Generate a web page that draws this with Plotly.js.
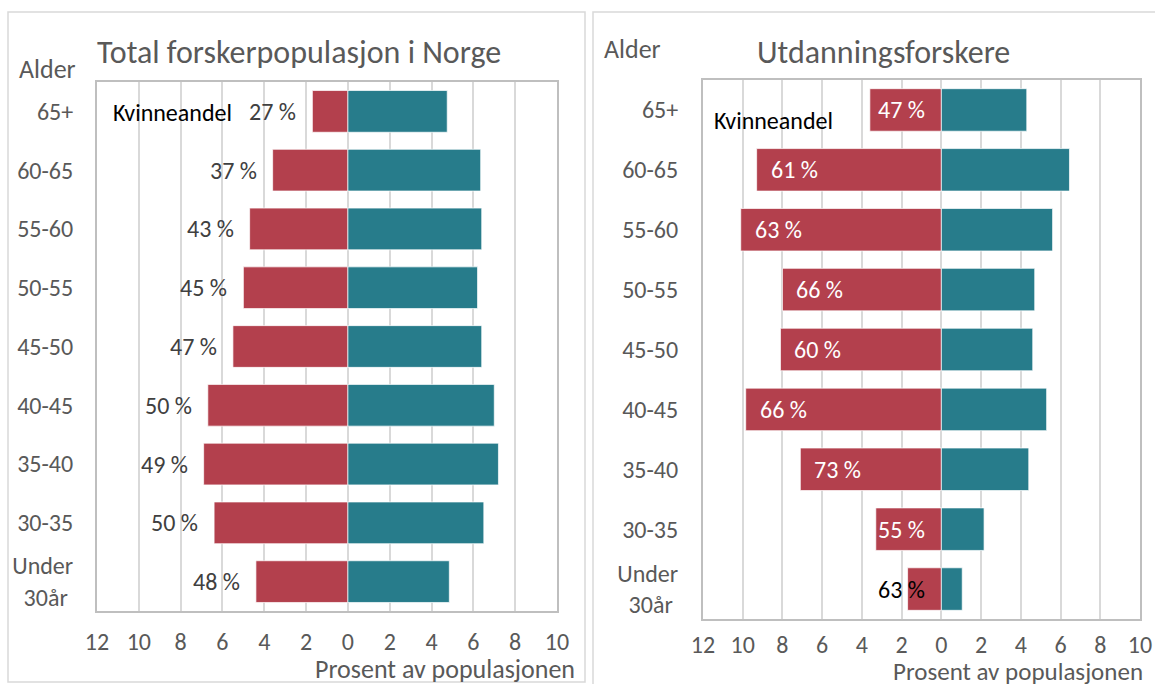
<!DOCTYPE html>
<html>
<head>
<meta charset="utf-8">
<script src="https://cdn.plot.ly/plotly-3.0.1.min.js"></script>
<style>html,body{margin:0;padding:0;background:#fff;}#chart{width:1155px;height:684px;}</style>
</head>
<body>
<div id="chart"></div>
<script>
// ---- Data ----
const ageGroups = ["65+", "60-65", "55-60", "50-55", "45-50", "40-45", "35-40", "30-35", "Under 30år"];
const ageTickText = ["65+", "60-65", "55-60", "50-55", "45-50", "40-45", "35-40", "30-35", "Under<br>30år&nbsp;"];

// Total forskerpopulasjon i Norge (prosent av populasjonen)
const totalWomen = [1.7, 3.6, 4.7, 5.0, 5.5, 6.7, 6.9, 6.4, 4.4];
const totalMen   = [4.75, 6.35, 6.4, 6.2, 6.4, 7.0, 7.2, 6.5, 4.85];
const totalShare = [27, 37, 43, 45, 47, 50, 49, 50, 48];

// Utdanningsforskere (prosent av populasjonen)
const eduWomen = [3.6, 9.3, 10.1, 8.0, 8.1, 9.85, 7.1, 3.3, 1.7];
const eduMen   = [4.3, 6.45, 5.6, 4.7, 4.6, 5.3, 4.4, 2.15, 1.05];
const eduShare = [47, 61, 63, 66, 60, 66, 73, 55, 63];

const xTickVals = [-12, -10, -8, -6, -4, -2, 0, 2, 4, 6, 8, 10];
const xTickText = ["12", "10", "8", "6", "4", "2", "0", "2", "4", "6", "8", "10"];

// ---- Styling ----
const W = 1155, H = 684;
const px = x => x / W;
const py = y => 1 - y / H;
const FONT = "Calibri, Carlito, 'Open Sans', sans-serif";
const RED = "#b3404d";
const TEAL = "#277c8b";
const GREY = "#595959";

function neg(a) { return a.map(v => -v); }

const barCommon = {
  type: "bar", orientation: "h", width: 0.71, hoverinfo: "skip", showlegend: false
};

const traces = [
  Object.assign({}, barCommon, {x: neg(totalWomen), y: ageGroups, xaxis: "x", yaxis: "y",
    marker: {color: RED, line: {color: "rgba(255,255,255,0.7)", width: 1}}}),
  Object.assign({}, barCommon, {x: totalMen, y: ageGroups, xaxis: "x", yaxis: "y",
    marker: {color: TEAL, line: {color: "rgba(255,255,255,0.7)", width: 1}}}),
  Object.assign({}, barCommon, {x: neg(eduWomen), y: ageGroups, xaxis: "x2", yaxis: "y2",
    marker: {color: RED, line: {color: "rgba(255,255,255,0.7)", width: 1}}}),
  Object.assign({}, barCommon, {x: eduMen, y: ageGroups, xaxis: "x2", yaxis: "y2",
    marker: {color: TEAL, line: {color: "rgba(255,255,255,0.7)", width: 1}}})
];

function xAxis(domain, anchor, standoff) {
  return {
    domain: domain, anchor: anchor, range: [-12, 10],
    tickvals: xTickVals, ticktext: xTickText,
    showgrid: true, gridcolor: "#d9d9d9", gridwidth: 2, zeroline: false,
    showline: true, linecolor: "#bfbfbf", linewidth: 2, mirror: true,
    ticks: "", ticklabelstandoff: standoff,
    tickfont: {family: FONT, size: 24, color: GREY}, fixedrange: true
  };
}
function yAxis(domain, anchor, standoff) {
  return {
    domain: domain, anchor: anchor, type: "category",
    categoryorder: "array", categoryarray: ageGroups,
    tickvals: ageGroups, ticktext: ageTickText,
    range: [8.5, -0.5], showgrid: false, zeroline: false,
    showline: true, linecolor: "#bfbfbf", linewidth: 2, mirror: true,
    ticks: "", ticklabelstandoff: standoff,
    tickfont: {family: FONT, size: 24, color: GREY}, fixedrange: true
  };
}

const annotations = [];
// Left panel share labels
ageGroups.forEach((g, i) => {
  annotations.push({x: -totalWomen[i], y: g, xref: "x", yref: "y", text: totalShare[i] + " %",
    showarrow: false, xanchor: "right", xshift: -14,
    font: {family: FONT, size: 24, color: "#404040"}});
});
// Right panel share labels
ageGroups.forEach((g, i) => {
  const shortBar = eduWomen[i] < 4;
  annotations.push({x: shortBar ? 0 : -eduWomen[i], y: g, xref: "x2", yref: "y2", text: eduShare[i] + " %",
    showarrow: false, xanchor: shortBar ? "right" : "left", xshift: shortBar ? -14 : 12,
    font: {family: FONT, size: 24, color: eduWomen[i] < 2 ? "#000000" : "#ffffff"}});
});

const texts = [
  {t: "Total forskerpopulasjon i Norge", x: 95, y: 53, xa: "left", size: 32, color: GREY},
  {t: "Utdanningsforskere", x: 755, y: 53, xa: "left", size: 32, color: GREY},
  {t: "Alder", x: 17, y: 69, xa: "left", size: 26, color: GREY},
  {t: "Alder", x: 602, y: 49, xa: "left", size: 26, color: GREY},
  {t: "Kvinneandel", x: 111, y: 112, xa: "left", size: 24, color: "#000000"},
  {t: "Kvinneandel", x: 712, y: 120, xa: "left", size: 24, color: "#000000"},
  {t: "Prosent av populasjonen", x: 577, y: 669, xa: "right", size: 26, color: GREY},
  {t: "Prosent av populasjonen", x: 891, y: 671, xa: "left", size: 25, color: GREY}
];
texts.forEach(o => annotations.push({
  text: o.t, x: px(o.x), y: py(o.y), xref: "paper", yref: "paper",
  xanchor: o.xa, yanchor: "middle", showarrow: false,
  font: {family: FONT, size: o.size, color: o.color}
}));

const shapes = [
  {type: "rect", xref: "paper", yref: "paper", x0: px(8), x1: px(585), y0: py(682), y1: py(12),
    line: {color: "#d9d9d9", width: 1.5}, layer: "below"},
  {type: "rect", xref: "paper", yref: "paper", x0: px(593), x1: px(1162), y0: py(690), y1: py(12),
    line: {color: "#d9d9d9", width: 1.5}, layer: "below"}
];

const layout = {
  width: W, height: H, margin: {l: 0, r: 0, t: 0, b: 0},
  paper_bgcolor: "#ffffff", plot_bgcolor: "#ffffff",
  barmode: "overlay", showlegend: false,
  font: {family: FONT, color: GREY},
  xaxis: xAxis([px(97), px(557)], "y", 8),
  yaxis: yAxis([py(611), py(82)], "x", 17),
  xaxis2: xAxis([px(703), px(1140)], "y2", 3),
  yaxis2: yAxis([py(619), py(80)], "x2", 18),
  annotations: annotations,
  shapes: shapes
};

Plotly.newPlot("chart", traces, layout, {displayModeBar: false, staticPlot: true});
</script>
</body>
</html>
